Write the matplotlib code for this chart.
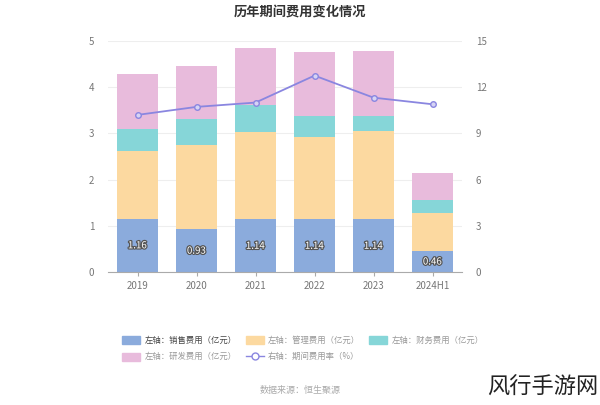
import matplotlib.pyplot as plt
import matplotlib.patheffects as pe
from matplotlib.patches import Patch
from matplotlib.lines import Line2D

plt.rcParams['font.family'] = ['Noto Sans CJK SC', 'DejaVu Sans']

# 数据
years = ['2019', '2020', '2021', '2022', '2023', '2024H1']
sales = [1.16, 0.93, 1.14, 1.14, 1.14, 0.46]
admin = [1.46, 1.82, 1.90, 1.79, 1.91, 0.82]
finance = [0.48, 0.56, 0.57, 0.45, 0.33, 0.28]
rnd = [1.18, 1.14, 1.24, 1.38, 1.41, 0.59]
rate = [10.2, 10.72, 11.0, 12.75, 11.32, 10.89]

c_sales = '#8babdc'
c_admin = '#fcd9a0'
c_fin = '#86d6d8'
c_rnd = '#e8bbdc'
c_line = '#8a86e0'

fig = plt.figure(figsize=(6, 4.05), dpi=100)
ax = fig.add_axes([0.18, 0.328, 0.59, 0.571])
ax2 = ax.twinx()

x = list(range(len(years)))
w = 0.68
b2 = [s for s in sales]
b3 = [s + a for s, a in zip(sales, admin)]
b4 = [s + a + f for s, a, f in zip(sales, admin, finance)]

ax.bar(x, sales, w, color=c_sales, zorder=2)
ax.bar(x, admin, w, bottom=b2, color=c_admin, zorder=2)
ax.bar(x, finance, w, bottom=b3, color=c_fin, zorder=2)
ax.bar(x, rnd, w, bottom=b4, color=c_rnd, zorder=2)

for i, v in enumerate(sales):
    ax.text(i, v / 2, '%.2f' % v, ha='center', va='center', fontsize=7, color='white',
            path_effects=[pe.withStroke(linewidth=1.8, foreground='#555555')], zorder=4)

ax2.plot(x, rate, color=c_line, lw=1.3, marker='o', ms=4, mfc='#d6d4f5', mec=c_line, mew=1, zorder=5)

ax.set_ylim(0, 5)
ax.set_yticks([0, 1, 2, 3, 4, 5])
ax2.set_ylim(0, 15)
ax2.set_yticks([0, 3, 6, 9, 12, 15])
ax.set_xlim(-0.5, 5.5)
ax.set_xticks(x)
ax.set_xticklabels(years)

ax.grid(axis='y', color='#eeeeee', lw=0.8, zorder=0)
ax.set_axisbelow(True)
for a in (ax, ax2):
    for s in a.spines.values():
        s.set_visible(False)
    a.tick_params(axis='y', length=0, labelsize=7, colors='#777777', pad=10)
ax.spines['bottom'].set_visible(True)
ax.spines['bottom'].set_color('#aaaaaa')
ax.tick_params(axis='x', length=3, color='#aaaaaa', labelsize=7, labelcolor='#777777')
ax.set_zorder(ax2.get_zorder() - 1)
ax.patch.set_visible(False)

fig.text(0.5, 0.97, '历年期间费用变化情况', ha='center', va='center', fontsize=9.5,
         fontweight='bold', color='#333333')

# 图例按行排列：第一行 销售/管理/财务，第二行 研发/费用率
h_sales = Patch(color=c_sales)
h_admin = Patch(color=c_admin)
h_fin = Patch(color=c_fin)
h_rnd = Patch(color=c_rnd)
h_rate = Line2D([], [], color=c_line, marker='o', mfc='white', mec=c_line, ms=5, lw=1)
handles = [h_sales, h_rnd, h_admin, h_rate, h_fin]
labels = ['左轴：销售费用（亿元）', '左轴：研发费用（亿元）', '左轴：管理费用（亿元）',
          '右轴：期间费用率（%）', '左轴：财务费用（亿元）']
leg = fig.legend(handles, labels, loc='upper left', bbox_to_anchor=(0.198, 0.18), ncol=3,
                 frameon=False, fontsize=6, handlelength=2.2, handleheight=1.1,
                 columnspacing=1.05, handletextpad=0.5, labelspacing=0.95, borderaxespad=0)
for i, t in enumerate(leg.get_texts()):
    t.set_color('#444444' if i == 0 else '#999999')

fig.text(0.5, 0.037, '数据来源：恒生聚源', ha='center', va='center', fontsize=6.5, color='#aaaaaa')
fig.text(0.998, 0.045, '风行手游网', ha='right', va='center', fontsize=16, color='#222222')

fig.savefig('out.png', dpi=100)
